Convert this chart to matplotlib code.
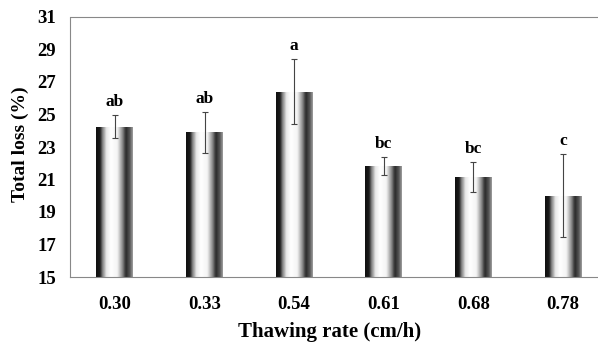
import numpy as np
import matplotlib
matplotlib.use("Agg")
import matplotlib.pyplot as plt
from matplotlib.colors import LinearSegmentedColormap

# data
rates = ["0.30", "0.33", "0.54", "0.61", "0.68", "0.78"]
loss = [24.25, 23.9, 26.4, 21.85, 21.15, 20.0]
loss_err = [0.7, 1.25, 2.0, 0.55, 0.95, 2.55]
groups = ["ab", "ab", "a", "bc", "bc", "c"]

plt.rcParams["font.family"] = ["Liberation Serif", "DejaVu Serif"]
plt.rcParams["font.weight"] = "bold"

fig = plt.figure(figsize=(5.98, 3.43), dpi=100)
# right edge of the plot is cut off in the reference
ax = fig.add_axes([70 / 598, 1 - 277 / 343, 538 / 598, 260 / 343])

x = np.arange(len(rates))
base = 15
bars = ax.bar(x, np.array(loss) - base, width=0.41, bottom=base,
              color="none", edgecolor="none", zorder=2)

# cylinder-like shading across each bar
shade = LinearSegmentedColormap.from_list("cyl", [
    (0.00, "#111111"), (0.10, "#1a1a1a"), (0.18, "#8a8a8a"),
    (0.28, "#e8e8e8"), (0.40, "#ffffff"), (0.58, "#f4f4f4"),
    (0.70, "#9a9a9a"), (0.82, "#2a2a2a"), (0.92, "#555555"),
    (1.00, "#9c9c9c")])
grad = np.linspace(0, 1, 64).reshape(1, -1)
for b in bars:
    x0, y0 = b.get_x(), b.get_y()
    im = ax.imshow(grad, cmap=shade, aspect="auto", zorder=2,
                   extent=[x0, x0 + b.get_width(), y0, y0 + b.get_height()],
                   interpolation="bilinear")
    im.set_clip_path(b)

ax.errorbar(x, loss, yerr=loss_err, fmt="none", ecolor="#444444",
            elinewidth=0.8, capsize=2.5, capthick=0.8, zorder=3)

for xi, v, e, g in zip(x, loss, loss_err, groups):
    ax.text(xi, v + e + 0.3, g, ha="center", va="bottom",
            fontsize=12.5, fontweight="bold")

ax.set_xlim(-0.5, 5.5)
ax.set_ylim(15, 31)
ax.set_yticks(range(15, 32, 2))
ax.set_xticks(x)
ax.set_xticklabels(rates)
ax.tick_params(length=0, labelsize=13.5)
ax.tick_params(axis="y", pad=10)
ax.tick_params(axis="x", pad=14)
for lbl in ax.get_xticklabels() + ax.get_yticklabels():
    lbl.set_fontweight("bold")

for side in ["left", "top", "bottom", "right"]:
    ax.spines[side].set_linestyle((0, (1, 1)))
    ax.spines[side].set_color("#888888")
    ax.spines[side].set_linewidth(0.8)

ax.set_xlabel("Thawing rate (cm/h)", fontsize=15, fontweight="bold",
              va="center")
ax.xaxis.set_label_coords(0.483, -0.21)
ax.set_ylabel("Total loss (%)", fontsize=14, fontweight="bold",
              va="center")
ax.yaxis.set_label_coords(-0.093, 0.51)

fig.savefig("out.png", dpi=100)
